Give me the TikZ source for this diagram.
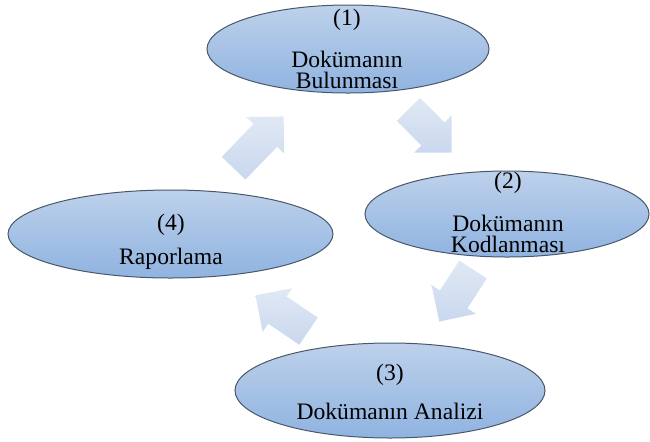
\documentclass[tikz,border=0pt]{standalone}
\usepackage{fontspec}
\setmainfont{Liberation Serif}
\usetikzlibrary{shapes.geometric,shapes.arrows}

\definecolor{stageTop}{HTML}{BDD1EB}
\definecolor{stageBot}{HTML}{8FB3E0}
\definecolor{stageLine}{HTML}{4B5768}
\definecolor{flowTop}{HTML}{E0E8F4}
\definecolor{flowBot}{HTML}{C9D8EE}

\begin{document}
\begin{tikzpicture}[x=0.5pt,y=-0.5pt,
  stage/.style={ellipse,draw=stageLine,line width=0.5pt,top color=stageTop,bottom color=stageBot,inner sep=0pt},
  stagetext/.style={align=center,inner sep=0pt,font=\fontsize{11.8}{10.5}\selectfont},
  flow/.style={single arrow,single arrow tip angle=90,single arrow head extend=5pt,inner sep=0pt,
    text height=8pt,text depth=8pt,top color=flowTop,bottom color=flowBot,draw=none,anchor=tip}]
\useasboundingbox (0,0) rectangle (650,441);

\node[stage,minimum width=141pt,minimum height=44pt] (find) at (348,49) {};
\node[stage,minimum width=142pt,minimum height=43pt] (code) at (507,214) {};
\node[stage,minimum width=155pt,minimum height=47.5pt] (analyse) at (390,390.5) {};
\node[stage,minimum width=162.5pt,minimum height=44pt] (report) at (170.5,234) {};

\node[stagetext] (findtxt) at (347,48.8) {(1)\\[9.5pt]Dokümanın\\Bulunması};
\node[stagetext] (codetxt) at (508,212.6) {(2)\\[9.5pt]Dokümanın\\Kodlanması};
\node[stagetext] (analysetxt) at (390,392) {(3)\\[7.5pt]Dokümanın Analizi};
\node[stagetext] (reporttxt) at (171,242) {(4)\\[5pt]Raporlama};

\node[flow,minimum height=30.5pt,rotate=-45] (findcode) at (452,153) {};
\node[flow,minimum height=31pt,rotate=-123] (codeanalyse) at (439,322) {};
\node[flow,minimum height=32pt,rotate=146] (analysereport) at (255,295) {};
\node[flow,minimum height=36pt,rotate=46] (reportfind) at (284,116) {};
\end{tikzpicture}
\end{document}
